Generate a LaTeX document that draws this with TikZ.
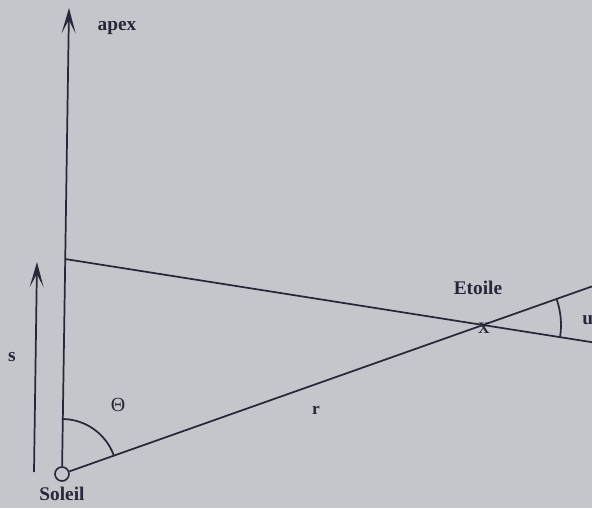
\documentclass[tikz,border=0pt]{standalone}
\usepackage{fontspec}
\setmainfont{Liberation Serif}
\usetikzlibrary{arrows.meta}
\definecolor{bg}{HTML}{C5C6CC}
\definecolor{ink}{HTML}{262838}
\tikzset{
  ln/.style={draw=ink, line width=1.3pt},
  arr/.style={ln, -{Stealth[length=19pt,width=10.5pt,inset=10pt]}},
  lbl/.style={text=ink, font=\bfseries\fontsize{14.5}{16}\selectfont, inner sep=0pt},
}
\begin{document}
\begin{tikzpicture}[x=0.75pt,y=0.75pt]
\fill[bg] (0,0) rectangle (592,508);
\useasboundingbox (0,0) rectangle (592,508);
% points
\node[draw=ink, line width=1.2pt, circle, minimum size=10.5pt, inner sep=0pt] (sun) at (62,34) {};
\coordinate (apextop) at (69,500);
\coordinate (P) at (65,249);
\coordinate (X) at (483,183);
\coordinate (uend) at (592,165.8);
\coordinate (lend) at (592,221.6);
\coordinate (sbot) at (34,36);
\coordinate (stop) at (37,246);
% lines
\draw[arr] (sun) -- (apextop);
\draw[ln] (P) -- (X) -- (uend);
\draw[ln] (sun) -- (X) -- (lend);
\draw[arr] (sbot) -- (stop);
% angle arcs
\draw[ln] ([shift={(90:55)}]sun.center) arc[start angle=90, end angle=19.5, radius=55];
\draw[ln] ([shift={(19.5:78)}]X) arc[start angle=19.5, end angle=-9, radius=78];
% labels
\node[lbl] (apex) at (117,480) {apex};
\node[lbl] (soleil) at (62,14) {Soleil};
\node[lbl] (etoile) at (478,220) {Etoile};
\node[lbl, font=\bfseries\fontsize{12}{13}\selectfont] (xl) at (484,180) {X};
\node[lbl, anchor=west] (u) at (582,188) {u};
\node[lbl] (s) at (12,151) {s};
\node[lbl, font=\fontsize{15}{17}\selectfont] (theta) at (118,103) {Θ};
\node[lbl, font=\bfseries\fontsize{13}{15}\selectfont] (r) at (316,98) {r};
\end{tikzpicture}
\end{document}
